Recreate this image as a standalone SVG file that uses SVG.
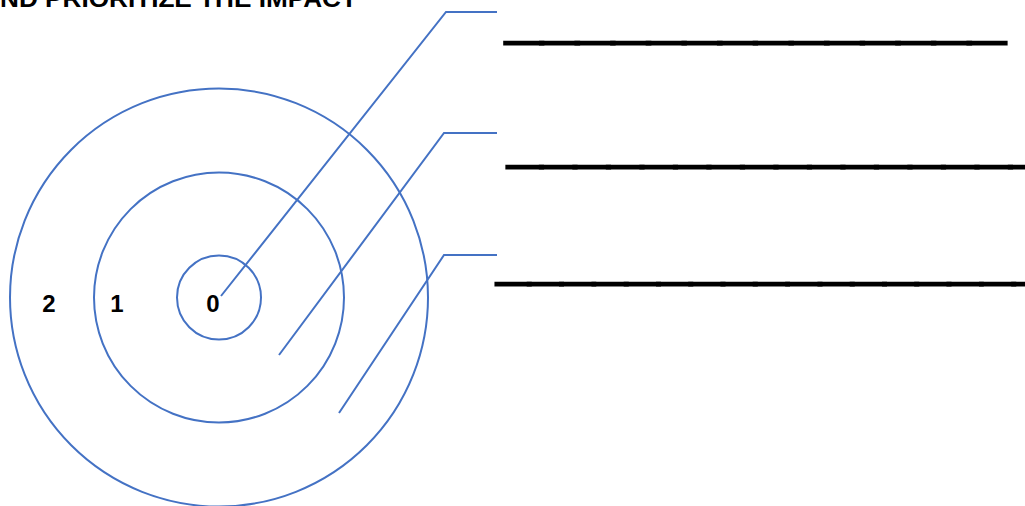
<svg xmlns="http://www.w3.org/2000/svg" width="1025" height="506" viewBox="0 0 1025 506">
<style>
.ring{fill:none;stroke:#4472C4;stroke-width:2}
.conn{fill:none;stroke:#4472C4;stroke-width:2}
.num{font-family:"Liberation Sans",Arial,sans-serif;font-weight:bold;font-size:24px;fill:#000;text-anchor:middle}
.blank{font-family:"Liberation Sans",Arial,sans-serif;font-weight:bold;font-size:44px;fill:#000;stroke:#000;stroke-width:3}
.title{font-family:"Liberation Sans",Arial,sans-serif;font-weight:bold;font-size:24px;fill:#000}
</style>
<rect width="1025" height="506" fill="#fff"/>
<text class="title" x="0" y="7" textLength="357" lengthAdjust="spacingAndGlyphs">ND PRIORITIZE THE IMPACT</text>
<g id="ring2"><circle class="ring" cx="219" cy="297.5" r="209"/><text class="num" x="49" y="312">2</text></g>
<g id="ring1"><circle class="ring" cx="219" cy="297.5" r="125"/><text class="num" x="117" y="312">1</text></g>
<g id="ring0"><circle class="ring" cx="219" cy="297.5" r="42"/><text class="num" x="213" y="312">0</text></g>
<g id="connectors">
<polyline class="conn" points="221,296 446,12 497,12"/>
<polyline class="conn" points="279,355 444,133 497,133"/>
<polyline class="conn" points="339,413 444,255 497,255"/>
</g>
<g id="blank1"><text class="blank" x="506" y="39" textLength="499" lengthAdjust="spacingAndGlyphs">______________</text></g>
<g id="blank2"><text class="blank" x="508" y="163" textLength="536" lengthAdjust="spacingAndGlyphs">________________</text></g>
<g id="blank3"><text class="blank" x="497" y="279.5" textLength="549" lengthAdjust="spacingAndGlyphs">_________________</text></g>
</svg>
